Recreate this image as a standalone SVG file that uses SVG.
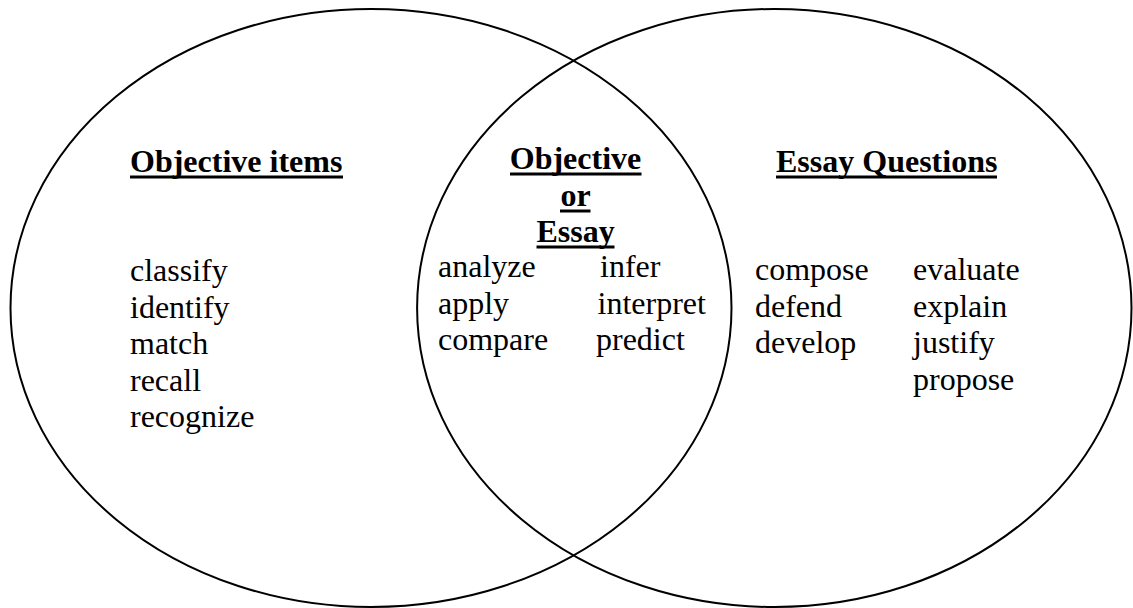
<svg xmlns="http://www.w3.org/2000/svg" width="1133" height="608" viewBox="0 0 1133 608">
  <style>
    .ring { fill: none; stroke: #000; stroke-width: 2; }
    .head { font-family: "Liberation Serif", "Times New Roman", serif; font-size: 32px; font-weight: bold; fill: #000; }
    .item { font-family: "Liberation Serif", "Times New Roman", serif; font-size: 32px; fill: #000; }
    .ul { stroke: #000; stroke-width: 3; }
  </style>
  <rect width="1133" height="608" fill="#fff"/>
  <g id="connectors"/>
  <g id="objective-items">
    <ellipse class="ring" cx="371" cy="308" rx="360.5" ry="299"/>
    <text class="head" x="130" y="172">Objective items</text>
    <line class="ul" x1="130" y1="177" x2="343" y2="177"/>
    <text class="item" x="130" y="281">classify</text>
    <text class="item" x="130" y="317.5">identify</text>
    <text class="item" x="130" y="354">match</text>
    <text class="item" x="130" y="390.5">recall</text>
    <text class="item" x="130" y="427">recognize</text>
  </g>
  <g id="essay-questions">
    <ellipse class="ring" cx="774.3" cy="308" rx="357.2" ry="299"/>
    <text class="head" x="776" y="172">Essay Questions</text>
    <line class="ul" x1="776" y1="177" x2="997" y2="177"/>
    <text class="item" x="755" y="280">compose</text>
    <text class="item" x="755" y="316.5">defend</text>
    <text class="item" x="755" y="353">develop</text>
    <text class="item" x="913" y="280">evaluate</text>
    <text class="item" x="913" y="316.5">explain</text>
    <text class="item" x="913" y="353">justify</text>
    <text class="item" x="913" y="389.5">propose</text>
  </g>
  <g id="objective-or-essay">
    <text class="head" x="575.5" y="169" text-anchor="middle">Objective</text>
    <line class="ul" x1="510" y1="174" x2="641.5" y2="174"/>
    <text class="head" x="575.5" y="206" text-anchor="middle">or</text>
    <line class="ul" x1="560" y1="211" x2="590.5" y2="211"/>
    <text class="head" x="575.5" y="242" text-anchor="middle">Essay</text>
    <line class="ul" x1="536.5" y1="247" x2="614.5" y2="247"/>
    <text class="item" x="438" y="277">analyze</text>
    <text class="item" x="438" y="313.5">apply</text>
    <text class="item" x="438" y="350">compare</text>
    <text class="item" x="600" y="277">infer</text>
    <text class="item" x="597.5" y="313.5">interpret</text>
    <text class="item" x="596" y="350">predict</text>
  </g>
</svg>
